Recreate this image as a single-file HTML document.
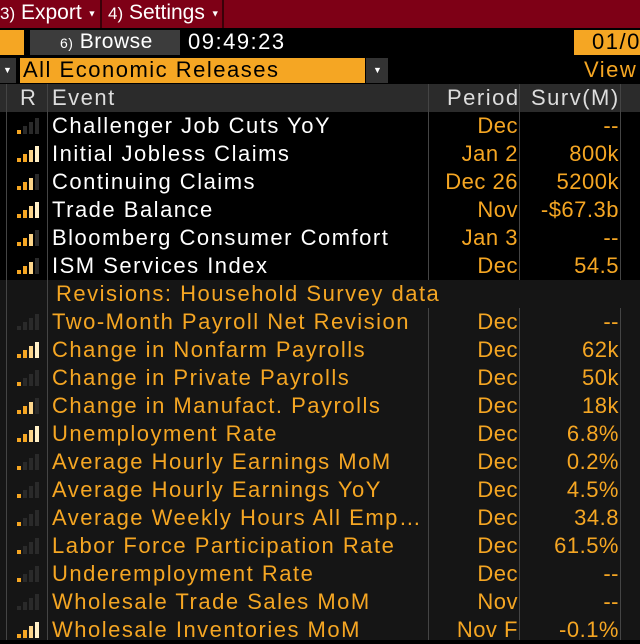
<!DOCTYPE html>
<html><head><style>
body{margin:0;width:640px;height:640px;overflow:hidden;background:#000;font-family:"Liberation Sans",sans-serif;position:relative}
div{position:absolute;white-space:nowrap}
.t{font-size:22px;line-height:28px;letter-spacing:1.5px}
.a{font-size:9px;vertical-align:middle;letter-spacing:0}
</style></head><body>
<div style="left:0;top:0;width:640px;height:28px;background:#7e0016"></div>
<div style="left:100px;top:0;width:2px;height:28px;background:#3a0008"></div>
<div style="left:222px;top:0;width:2px;height:28px;background:#3a0008"></div>
<div class="t" style="left:0;top:-1px;color:#fff;letter-spacing:0;font-size:21px"><span style="font-size:17px">3)</span> Export <span class="a">▼</span></div>
<div class="t" style="left:108px;top:-1px;color:#fff;letter-spacing:0;font-size:21px"><span style="font-size:17px">4)</span> Settings <span class="a">▼</span></div>
<div style="left:0;top:30px;width:24px;height:25px;background:#f5a623"></div>
<div style="left:30px;top:30px;width:150px;height:25px;background:#3c3c3c"></div>
<div class="t" style="left:60px;top:28px;color:#fff;font-size:21px;letter-spacing:0.5px"><span style="font-size:14px">6)</span> Browse</div>
<div class="t" style="left:188px;top:28px;color:#fff">09:49:23</div>
<div style="left:574px;top:30px;width:66px;height:25px;background:#f5a623"></div>
<div class="t" style="left:592px;top:28px;color:#000">01/0</div>
<div style="left:0;top:58px;width:16px;height:25px;background:#333"></div>
<div style="left:3px;top:58px;color:#fff;font-size:9px;line-height:25px">▼</div>
<div style="left:20px;top:58px;width:345px;height:25px;background:#f5a623"></div>
<div class="t" style="left:23px;top:56px;color:#000">All Economic Releases</div>
<div style="left:366px;top:58px;width:22px;height:25px;background:#333"></div>
<div style="left:373px;top:58px;color:#fff;font-size:9px;line-height:25px">▼</div>
<div class="t" style="left:584px;top:56px;color:#f5a623">View</div>
<div style="left:0;top:84px;width:640px;height:28px;background:#2b2b2b"></div>
<div class="t" style="left:20px;top:84px;color:#ddd">R</div>
<div class="t" style="left:52px;top:84px;color:#ddd">Event</div>
<div class="t" style="left:447px;top:84px;color:#ddd">Period</div>
<div class="t" style="left:531px;top:84px;color:#ddd">Surv(M)</div>
<div style="left:0;top:280px;width:640px;height:360px;background:#151515"></div>
<div style="left:6px;top:84px;width:1px;height:556px;background:#444"></div>
<div style="left:47px;top:84px;width:1px;height:556px;background:#444"></div>
<div style="left:428px;top:84px;width:1px;height:196px;background:#444"></div>
<div style="left:428px;top:308px;width:1px;height:332px;background:#444"></div>
<div style="left:519px;top:84px;width:1px;height:196px;background:#444"></div>
<div style="left:519px;top:308px;width:1px;height:332px;background:#444"></div>
<div style="left:620px;top:84px;width:1px;height:196px;background:#444"></div>
<div style="left:620px;top:308px;width:1px;height:332px;background:#444"></div>
<div id="rows" style="left:0;top:0;width:640px;height:640px"></div>
<script>
var R=[["Challenger Job Cuts YoY","Dec","--",1,0],["Initial Jobless Claims","Jan 2","800k",4,0],["Continuing Claims","Dec 26","5200k",3,0],["Trade Balance","Nov","-$67.3b",4,0],["Bloomberg Consumer Comfort","Jan 3","--",3,0],["ISM Services Index","Dec","54.5",3,0],["Revisions: Household Survey data","","",-1,1],["Two-Month Payroll Net Revision","Dec","--",0,1],["Change in Nonfarm Payrolls","Dec","62k",4,1],["Change in Private Payrolls","Dec","50k",1,1],["Change in Manufact. Payrolls","Dec","18k",3,1],["Unemployment Rate","Dec","6.8%",4,1],["Average Hourly Earnings MoM","Dec","0.2%",1,1],["Average Hourly Earnings YoY","Dec","4.5%",1,1],["Average Weekly Hours All Emp…","Dec","34.8",1,1],["Labor Force Participation Rate","Dec","61.5%",1,1],["Underemployment Rate","Dec","--",1,1],["Wholesale Trade Sales MoM","Nov","--",0,1],["Wholesale Inventories MoM","Nov F","-0.1%",4,1]];
var h="";R.forEach(function(r,i){var y=112+i*28;var c=r[4]?"#f5a623":"#fff";
h+='<div class="t" style="left:'+(r[3]<0?56:52)+'px;top:'+y+'px;color:'+c+'">'+r[0]+'</div>';
h+='<div class="t" style="right:122px;top:'+y+'px;color:#f5a623;letter-spacing:0.5px">'+r[1]+'</div>';
h+='<div class="t" style="right:21px;top:'+y+'px;color:#f5a623;letter-spacing:0.5px">'+r[2]+'</div>';
if(r[3]>=0)for(var k=0;k<4;k++){var col=k<r[3]?(k==3?"#fff0c8":k==2?"#fcd58a":"#f5a623"):"#2a2a2a";var hh=4+k*4;
h+='<div style="left:'+(17+k*6)+'px;top:'+(y+22-hh)+'px;width:4px;height:'+hh+'px;background:'+col+'"></div>';}
});document.getElementById("rows").innerHTML=h;
</script>
</body></html>
